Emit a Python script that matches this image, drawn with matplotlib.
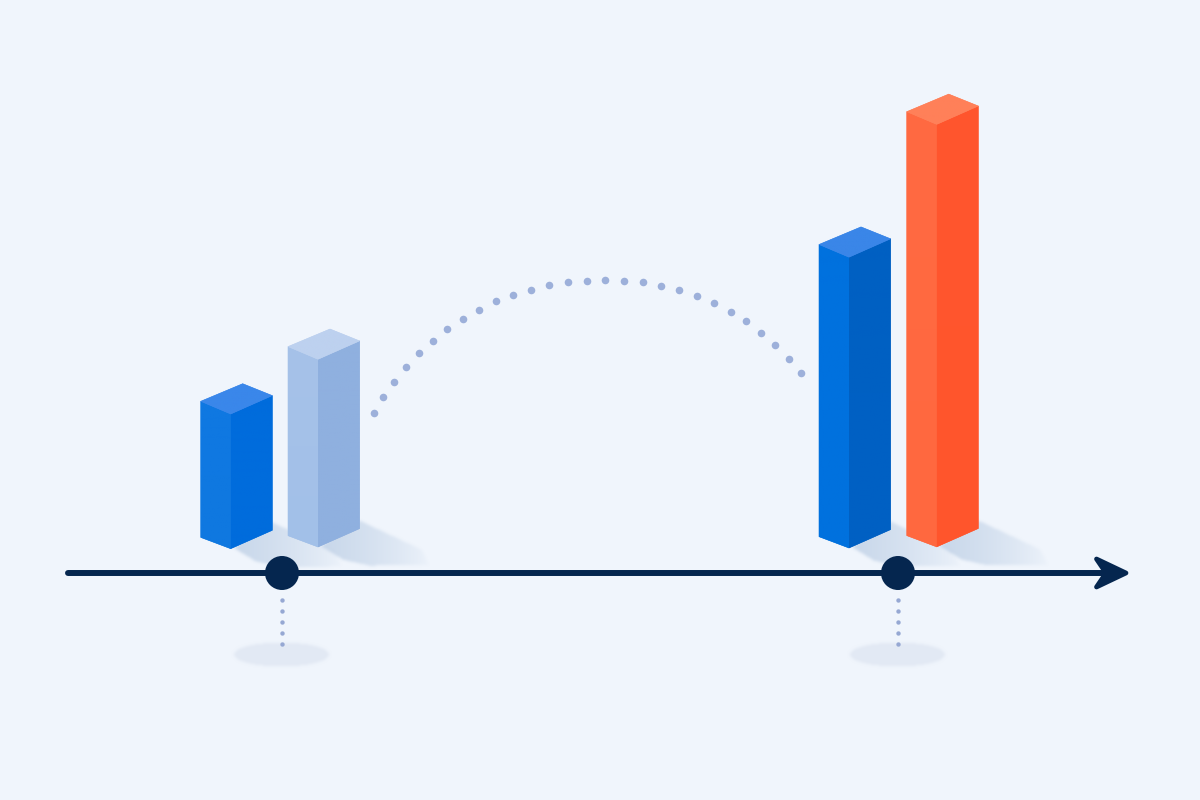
import matplotlib
matplotlib.use("Agg")
import matplotlib.pyplot as plt
import numpy as np
from matplotlib.colors import to_rgb
from matplotlib.patches import Polygon, Circle
from matplotlib.path import Path

# bar heights (front edge, pixels)
bar_heights = [134.7, 187.7, 290.8, 422.5]
bar_names = ["before_a", "before_b", "after_a", "after_b"]

# dotted arc between the two groups
arc_x = [374, 383.3, 394, 406, 418.7, 432.7, 447.3, 463, 479.3, 496, 513.3, 531.3, 549.3, 568,
         586.7, 605.3, 624, 642.7, 661, 679, 696.7, 714, 730.7, 746.3, 761.3, 775.3, 788.7, 800.7]
arc_y = [413.3, 397, 381.7, 367, 353.3, 340.7, 329, 318.7, 309.7, 301.3, 295, 289.7, 285.3, 282.3,
         280.7, 280, 280.7, 282.3, 285.7, 290.3, 296, 303, 311.7, 321.3, 332.7, 345, 358.7, 373]

# dots under the timeline markers
drop_y = [599.7, 610.7, 621.7, 632.7, 643.7]
marker_x = [282, 898]

bg = "#f0f5fc"
navy = "#05264f"
dot_col = "#9db0da"
drop_col = "#96a8d3"

# (left face top/bottom, right face top/bottom, top face)
bar_cols = [
    (("#0f78e2", "#0f78e0"), ("#006cdc", "#006cdc"), "#3a87ea"),
    (("#a6c2e9", "#a2c0e8"), ("#8fb0df", "#8fb0df"), "#bdd1ef"),
    (("#0071de", "#0071de"), ("#0060c2", "#0060c4"), "#3a86e8"),
    (("#ff6a42", "#ff683f"), ("#ff562e", "#ff552c"), "#ff8059"),
]
bar_lefts = [200.7, 288, 819, 906.7]
bar_bottoms = [548.7, 547, 548, 546.9]

fig = plt.figure(figsize=(12, 8), dpi=100, facecolor=bg)
ax = fig.add_axes([0, 0, 1, 1])
ax.set_facecolor(bg)
ax.axis("off")


def blur(a, n):
    # three box passes, close enough to a gaussian
    k = np.ones(2 * n + 1) / (2 * n + 1)
    for _ in range(3):
        a = np.apply_along_axis(lambda r: np.convolve(r, k, mode="same"), 0, a)
        a = np.apply_along_axis(lambda r: np.convolve(r, k, mode="same"), 1, a)
    return a


def soft_blob(pts, col, alpha, n, fade=None, z=1):
    # filled shape with blurred edges, fade is an optional (gx, gy) -> factor
    pts = np.array(pts)
    x0, x1 = int(pts[:, 0].min()) - 20, int(pts[:, 0].max()) + 20
    y0, y1 = int(pts[:, 1].min()) - 20, int(pts[:, 1].max()) + 20
    gx, gy = np.meshgrid(np.arange(x0, x1) + 0.5, np.arange(y0, y1) + 0.5)
    inside = Path(pts).contains_points(np.c_[gx.ravel(), gy.ravel()]).reshape(gx.shape)
    a = blur(inside.astype(float), n)
    if fade is not None:
        a = a * fade(gx, gy)
    rgba = np.zeros(gx.shape + (4,))
    rgba[..., :3] = to_rgb(col)
    rgba[..., 3] = a * alpha
    ax.imshow(rgba, extent=(x0, x1, y1, y0), aspect="auto", zorder=z, interpolation="bilinear")


def grad_poly(pts, c1, c2, z):
    # polygon filled with a two colour vertical gradient
    pts = np.array(pts)
    x0, x1 = pts[:, 0].min(), pts[:, 0].max()
    y0, y1 = pts[:, 1].min(), pts[:, 1].max()
    t = np.linspace(0, 1, 64)
    a, b = np.array(to_rgb(c1)), np.array(to_rgb(c2))
    row = a[None, :] * (1 - t[:, None]) + b[None, :] * t[:, None]
    im = ax.imshow(row[:, None, :], extent=(x0, x1, y1, y0), aspect="auto", zorder=z + 0.1, interpolation="bilinear")
    p = Polygon(pts, closed=True, fc=c1, ec=c2, lw=0.4, zorder=z)
    ax.add_patch(p)
    im.set_clip_path(p)


def shadow(x_mid, x_right, y_mid, y_right):
    # soft shadow on the floor, fades to the right
    pts = [(x_mid + 3, y_mid - 1), (x_right, y_right - 8), (x_right + 62, y_right + 21),
           (x_right + 70, y_right + 36), (x_right + 10, y_right + 37), (x_mid + 25, y_right + 31)]
    x_end = x_right + 72

    def fade(gx, gy):
        return np.clip(1 - (gx - x_mid) / (x_end - x_mid), 0, 1) ** 0.7

    soft_blob(pts, "#a9c0dc", 0.58, 1, fade)


def bar3d(left, bottom, height, cols):
    mid = left + 30
    right = left + 71.6
    # depth offsets of the box corners
    lo, ro = -11.3, -18.4
    y_top = bottom - height
    lf, rf, tf = cols
    shadow(mid, right, bottom, bottom + ro)
    grad_poly([(left, y_top + lo - 1.4), (mid, y_top), (mid, bottom), (left, bottom + lo)], lf[0], lf[1], 3)
    grad_poly([(mid, y_top), (right, y_top + ro), (right, bottom + ro), (mid, bottom)], rf[0], rf[1], 3)
    grad_poly([(left, y_top + lo - 1.4), (left + 42, y_top - 30.3), (right, y_top + ro), (mid, y_top)], tf, tf, 4)


for h, l, b, c in zip(bar_heights, bar_lefts, bar_bottoms, bar_cols):
    bar3d(l, b, h, c)

# timeline
ax.plot([68, 1118], [573, 573], color=navy, lw=4.3, solid_capstyle="round", zorder=6)
ax.add_patch(Polygon([(1096.5, 559), (1126, 573), (1096.5, 587), (1106, 573)], closed=True, fc=navy, ec=navy,
                     lw=3.4, joinstyle="round", zorder=6))

for mx in marker_x:
    th = np.linspace(0, 2 * np.pi, 80)
    soft_blob(np.c_[mx - 0.5 + 47.5 * np.cos(th), 654.5 + 12 * np.sin(th)], "#e2e9f4", 1.0, 1)
    ax.add_patch(Circle((mx, 573), 17, fc=navy, ec="none", zorder=7))
    ax.scatter([mx] * len(drop_y), drop_y, s=10, color=drop_col, linewidths=0, zorder=5)

ax.scatter(arc_x, arc_y, s=30, color=dot_col, linewidths=0, zorder=5)

ax.set_xlim(0, 1200)
ax.set_ylim(800, 0)
fig.savefig("out.png", dpi=100, facecolor=bg)
